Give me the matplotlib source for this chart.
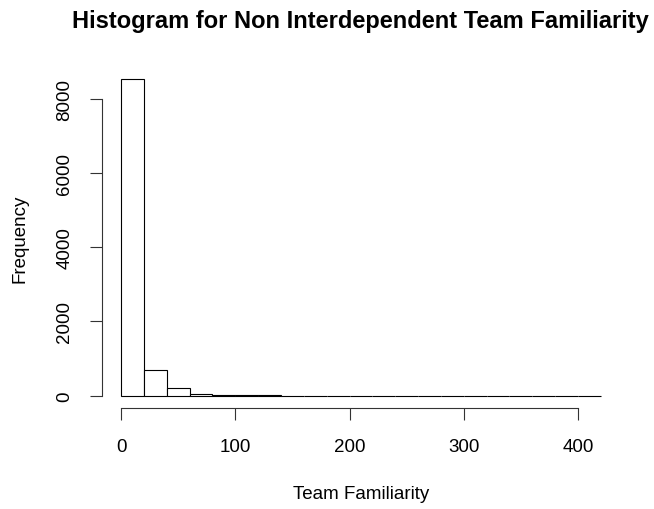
import numpy as np
import matplotlib
matplotlib.use("Agg")
import matplotlib.pyplot as plt

# histogram bins of width 20, counts
bin_edges = np.arange(0, 440, 20)
counts = [8540, 703, 208, 54, 22, 6, 4, 3, 2, 2, 1, 1, 1, 1, 1, 1, 1, 1, 1, 1, 1]
x_ticks = [0, 100, 200, 300, 400]
y_ticks = [0, 2000, 4000, 6000, 8000]

plt.rcParams["font.family"] = ["Liberation Sans", "DejaVu Sans"]

fig = plt.figure(figsize=(6.54, 5.10), dpi=100)
ax = fig.add_axes([0.1557, 0.1975, 0.7924, 0.6704])

ax.bar(bin_edges[:-1], counts, width=20, align="edge",
       facecolor="white", edgecolor="black", linewidth=0.8)

# R style: 4% padding around data range
xlo, xhi = bin_edges[0], bin_edges[-1]
ymax = max(counts)
ax.set_xlim(xlo - 0.04 * (xhi - xlo), xhi + 0.04 * (xhi - xlo))
ax.set_ylim(-0.04 * ymax, ymax * 1.04)

for side in ("top", "right"):
    ax.spines[side].set_visible(False)
ax.spines["left"].set_bounds(y_ticks[0], y_ticks[-1])
ax.spines["bottom"].set_bounds(x_ticks[0], x_ticks[-1])
for side in ("left", "bottom"):
    ax.spines[side].set_linewidth(0.8)
    ax.spines[side].set_color("#333333")

ax.set_xticks(x_ticks)
ax.set_yticks(y_ticks)
ax.set_yticklabels([str(v) for v in y_ticks], rotation=90, va="center")
ax.tick_params(length=8.4, width=0.8, color="#333333", labelsize=13.5)
ax.tick_params(axis="x", pad=13.2)
ax.tick_params(axis="y", pad=12.1)

ax.set_xlabel("Team Familiarity", fontsize=13.5, labelpad=21.6)
ax.set_ylabel("Frequency", fontsize=13.5, labelpad=19.7)
# title centred over the plot region, as R does
fig.text(0.5512, 0.980, "Histogram for Non Interdependent Team Familiarity",
         fontsize=17, fontweight="bold", ha="center", va="top")

fig.savefig("out.png", dpi=100)
